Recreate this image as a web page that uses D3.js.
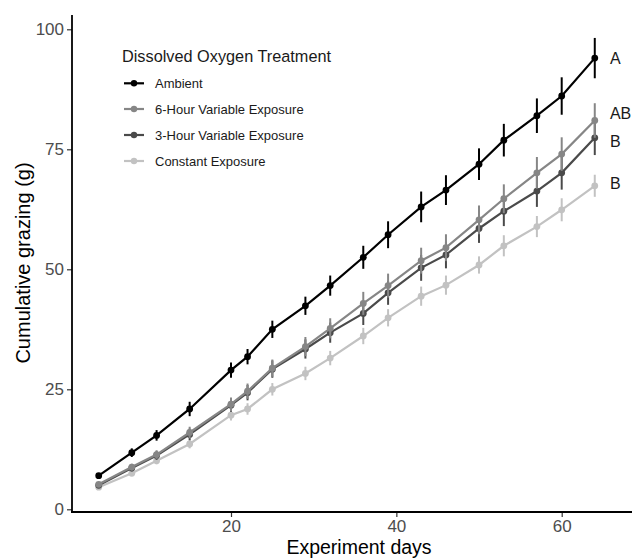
<!DOCTYPE html>
<html>
<head>
<meta charset="utf-8">
<script src="https://cdn.jsdelivr.net/npm/d3@7"></script>
<style>
  html, body { margin: 0; padding: 0; background: #fff; }
  svg { display: block; }
  text { font-family: "Liberation Sans", Arial, Helvetica, sans-serif; }
</style>
</head>
<body>
<svg id="chart" width="632" height="558"></svg>
<script>
// ---- data ----
const days = [4, 8, 11, 15, 20, 22, 25, 29, 32, 36, 39, 43, 46, 50, 53, 57, 60, 64];

const seriesNames = ["Ambient", "6-Hour Variable Exposure", "3-Hour Variable Exposure", "Constant Exposure"];
const seriesColors = ["#000000", "#868686", "#4a4a4a", "#c2c2c2"];

const ambientMean = [7.0, 11.8, 15.4, 20.9, 29.0, 31.8, 37.5, 42.4, 46.6, 52.5, 57.2, 63.0, 66.5, 71.9, 76.9, 82.0, 86.1, 94.0];
const ambientErr  = [0.5, 0.9, 1.1, 1.5, 1.6, 1.6, 1.8, 1.9, 2.1, 2.4, 2.8, 3.2, 3.1, 3.3, 3.4, 3.6, 3.9, 4.2];

const sixHourMean = [5.2, 8.8, 11.4, 16.0, 21.9, 24.6, 29.4, 33.9, 37.7, 42.9, 46.6, 51.8, 54.5, 60.3, 64.7, 70.1, 74.0, 81.0];
const sixHourErr  = [0.4, 0.7, 0.9, 1.2, 1.4, 1.6, 1.8, 2.0, 2.1, 2.4, 2.5, 2.7, 2.8, 3.0, 3.0, 3.3, 3.5, 3.6];

const threeHourMean = [5.0, 8.6, 11.2, 15.6, 21.7, 24.3, 29.2, 33.4, 36.8, 40.8, 45.1, 50.3, 53.0, 58.5, 62.1, 66.3, 70.1, 77.4];
const threeHourErr  = [0.4, 0.7, 0.9, 1.2, 1.4, 1.6, 1.8, 2.0, 2.1, 2.4, 2.5, 2.7, 2.8, 3.0, 3.1, 3.3, 3.5, 3.6];

const constantMean = [4.6, 7.5, 10.1, 13.6, 19.6, 20.9, 25.0, 28.3, 31.5, 36.1, 39.9, 44.4, 46.7, 50.9, 54.9, 58.9, 62.4, 67.4];
const constantErr  = [0.3, 0.5, 0.7, 0.9, 1.1, 1.2, 1.3, 1.4, 1.5, 1.7, 1.8, 2.0, 2.0, 1.8, 2.2, 2.2, 2.4, 2.3];

const xTicks = [20, 40, 60];
const yTicks = [0, 25, 50, 75, 100];

const letterLabels = ["A", "AB", "B", "B"];
const letterY = [94.0, 82.6, 76.6, 68.0];
const letterX = 66.5;

const legendTitle = "Dissolved Oxygen Treatment";
const xTitle = "Experiment days";
const yTitle = "Cumulative grazing (g)";

// ---- build ----
const means = [ambientMean, sixHourMean, threeHourMean, constantMean];
const errs = [ambientErr, sixHourErr, threeHourErr, constantErr];
const series = seriesNames.map((name, i) => ({
  name, color: seriesColors[i],
  values: days.map((d, j) => ({ day: d, mean: means[i][j], err: errs[i][j] }))
}));

const svg = d3.select("#chart");
const x = d3.scaleLinear().domain([20, 60]).range([231, 561.7]);
const y = d3.scaleLinear().domain([0, 100]).range([509.3, 29.3]);

const axisLeftX = 72;
const axisBottomY = 512;

// axes
const yAxis = svg.append("g")
  .attr("transform", `translate(${axisLeftX},0)`)
  .call(d3.axisLeft(y).tickValues(yTicks).tickSize(5).tickPadding(3).tickFormat(d3.format("d")));
yAxis.select(".domain").remove();
yAxis.selectAll(".tick line").attr("stroke", "#333").attr("stroke-width", 1.2);
yAxis.selectAll(".tick text").attr("fill", "#4d4d4d").style("font-size", "17px");

const xAxis = svg.append("g")
  .attr("transform", `translate(0,${axisBottomY})`)
  .call(d3.axisBottom(x).tickValues(xTicks).tickSize(5).tickPadding(3).tickFormat(d3.format("d")));
xAxis.select(".domain").remove();
xAxis.selectAll(".tick line").attr("stroke", "#333").attr("stroke-width", 1.2);
xAxis.selectAll(".tick text").attr("fill", "#4d4d4d").style("font-size", "17px");

svg.append("line").attr("x1", axisLeftX).attr("x2", axisLeftX).attr("y1", 15).attr("y2", axisBottomY + 0.9)
  .attr("stroke", "#000").attr("stroke-width", 1.8);
svg.append("line").attr("x1", axisLeftX - 0.9).attr("x2", 632).attr("y1", axisBottomY).attr("y2", axisBottomY)
  .attr("stroke", "#000").attr("stroke-width", 1.8);

// series (draw last series first so Ambient is on top)
const line = d3.line().x(d => x(d.day)).y(d => y(d.mean));
const drawOrder = series.slice().reverse();
drawOrder.forEach(s => {
  const g = svg.append("g");
  g.selectAll("line.err").data(s.values).enter().append("line")
    .attr("x1", d => x(d.day)).attr("x2", d => x(d.day))
    .attr("y1", d => y(d.mean - d.err)).attr("y2", d => y(d.mean + d.err))
    .attr("stroke", s.color).attr("stroke-width", 2);
  g.append("path").datum(s.values).attr("d", line)
    .attr("fill", "none").attr("stroke", s.color).attr("stroke-width", 2.2);
  g.selectAll("circle").data(s.values).enter().append("circle")
    .attr("cx", d => x(d.day)).attr("cy", d => y(d.mean)).attr("r", 3.4)
    .attr("fill", s.color);
});

// letters
svg.selectAll("text.letter").data(letterLabels).enter().append("text")
  .attr("class", "letter")
  .attr("x", x(letterX) - 5.5)
  .attr("y", (d, i) => y(letterY[i]))
  .attr("dy", "0.36em")
  .attr("fill", "#1a1a1a")
  .style("font-size", "16px")
  .text(d => d);

// legend
const lg = svg.append("g");
lg.append("text").attr("x", 122).attr("y", 61.5).attr("fill", "#1a1a1a")
  .style("font-size", "16.3px").text(legendTitle);
const legY = [83.3, 109, 135, 161];
series.forEach((s, i) => {
  lg.append("line").attr("x1", 124).attr("x2", 144).attr("y1", legY[i]).attr("y2", legY[i])
    .attr("stroke", s.color).attr("stroke-width", 2.2);
  lg.append("circle").attr("cx", 134).attr("cy", legY[i]).attr("r", 3.2).attr("fill", s.color);
  lg.append("text").attr("x", 155).attr("y", legY[i]).attr("dy", "0.35em").attr("fill", "#1a1a1a")
    .style("font-size", "13px").text(s.name);
});

// axis titles
svg.append("text").attr("x", 359).attr("y", 554).attr("text-anchor", "middle")
  .attr("fill", "#000").style("font-size", "19.5px").text(xTitle);
svg.append("text").attr("transform", "translate(30,263) rotate(-90)").attr("text-anchor", "middle")
  .attr("fill", "#000").style("font-size", "20px").text(yTitle);
</script>
</body>
</html>
